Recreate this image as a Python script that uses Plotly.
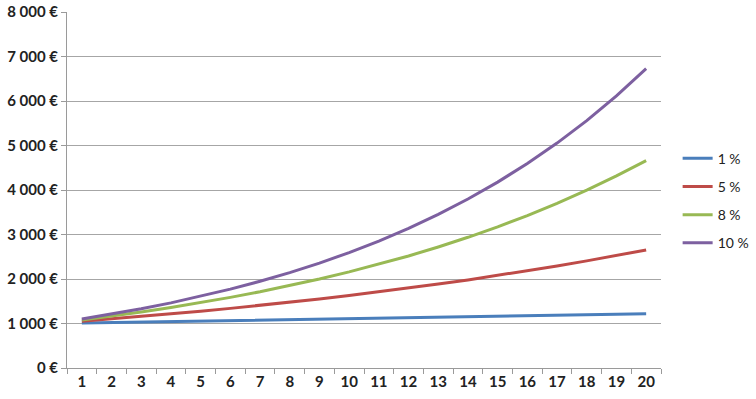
import plotly.graph_objects as go

years = [str(i) for i in range(1, 21)]
series_names = ["1 %", "5 %", "8 %", "10 %"]
v1 = [1010, 1020, 1030, 1041, 1051, 1062, 1072, 1083, 1094, 1105, 1116, 1127, 1138, 1149, 1161, 1173, 1184, 1196, 1208, 1220]
v5 = [1050, 1103, 1158, 1216, 1276, 1340, 1407, 1477, 1551, 1629, 1710, 1796, 1886, 1980, 2079, 2183, 2292, 2407, 2527, 2653]
v8 = [1080, 1166, 1260, 1360, 1469, 1587, 1714, 1851, 1999, 2159, 2332, 2518, 2720, 2937, 3172, 3426, 3700, 3996, 4316, 4661]
v10 = [1100, 1210, 1331, 1464, 1611, 1772, 1949, 2144, 2358, 2594, 2853, 3138, 3452, 3797, 4177, 4595, 5054, 5560, 6116, 6727]
y_tickvals = [0, 1000, 2000, 3000, 4000, 5000, 6000, 7000, 8000]
y_ticktext = ["0 €", "1 000 €", "2 000 €", "3 000 €", "4 000 €", "5 000 €", "6 000 €", "7 000 €", "8 000 €"]
colors = ["#4A7EBB", "#BE4B48", "#98B954", "#7D60A0"]

fig = go.Figure()
for i, (name, vals) in enumerate(zip(series_names, [v1, v5, v8, v10])):
    fig.add_trace(go.Scatter(
        x=years, y=vals, mode="lines", name=name, legendgroup=name,
        line=dict(color=colors[i], width=3),
    ))

fig.update_layout(
    width=756, height=399,
    margin=dict(l=67, r=95, t=12, b=31, autoexpand=False),
    paper_bgcolor="white", plot_bgcolor="white",
    font=dict(family="Lato, Open Sans, sans-serif", color="#222222"),
    showlegend=True,
    legend=dict(x=1.028, y=0.633, xanchor="left", yanchor="top",
                font=dict(size=14, color="#222222"), tracegroupgap=7,
                bgcolor="rgba(0,0,0,0)"),
    xaxis=dict(type="category", tickson="boundaries", ticks="outside", ticklen=5,
               tickcolor="#9a9a9a", showline=True, linecolor="#9a9a9a", linewidth=1,
               showgrid=False, tickfont=dict(size=15, weight="bold"),
               range=[-0.5, 19.5], automargin=False),
    yaxis=dict(range=[0, 8000], tickvals=y_tickvals, ticktext=y_ticktext,
               ticks="outside", ticklen=5, tickcolor="#9a9a9a",
               showline=True, linecolor="#9a9a9a", linewidth=1,
               showgrid=True, gridcolor="#a6a6a6", gridwidth=1, zeroline=False,
               tickfont=dict(size=15, weight="bold"), automargin=False),
)

html = fig.to_html(include_plotlyjs=True, full_html=True, config={"displayModeBar": False})
html = html.replace("<head>", "<head><style>html,body{margin:0;padding:0;overflow:hidden;}</style>", 1)
with open("out.html", "w", encoding="utf-8") as f:
    f.write(html)
